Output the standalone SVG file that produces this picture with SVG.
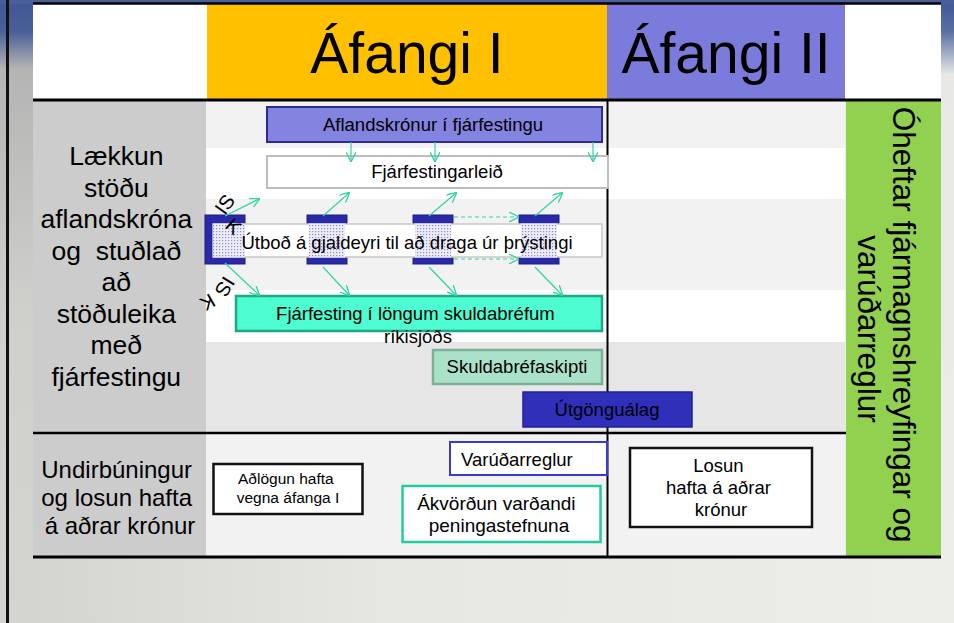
<svg xmlns="http://www.w3.org/2000/svg" width="954" height="623" viewBox="0 0 954 623">
<defs>
<style>
text{font-family:"Liberation Sans",Arial,sans-serif;fill:#000}
.c{text-anchor:middle}
.b{font-size:18.5px}
.isk{font-size:20px}
.ar{stroke:#2fd3a6;stroke-width:1.2;fill:none;marker-end:url(#ah)}
.dash{stroke-dasharray:4 3}
.ln{stroke:#000;fill:none}
</style>
<marker id="ah" viewBox="0 0 10 10" refX="9" refY="5" markerWidth="10" markerHeight="10" markerUnits="userSpaceOnUse" orient="auto">
<path d="M0,0 L10,5 L0,10" fill="none" stroke="#2fd3a6" stroke-width="1.3"/>
</marker>
<pattern id="dots" width="3" height="3" patternUnits="userSpaceOnUse">
<rect width="3" height="3" fill="#ececf6"/>
<rect width="1.2" height="1.2" fill="#8c8cd2"/>
</pattern>
<linearGradient id="leftg" x1="0" y1="0" x2="0" y2="1">
<stop offset="0" stop-color="#3f5795"/>
<stop offset="0.05" stop-color="#4a5f98"/>
<stop offset="0.11" stop-color="#b4b4b4"/>
<stop offset="0.5" stop-color="#cfcfcc"/>
<stop offset="1" stop-color="#d4d4d0"/>
</linearGradient>
<linearGradient id="rightg" x1="0" y1="0" x2="0" y2="1">
<stop offset="0" stop-color="#3f5795"/>
<stop offset="0.05" stop-color="#5a6ea4"/>
<stop offset="0.12" stop-color="#e8e8e6"/>
<stop offset="1" stop-color="#ededea"/>
</linearGradient>
<linearGradient id="botg" x1="0" y1="0" x2="1" y2="0">
<stop offset="0" stop-color="#d2d2ce"/>
<stop offset="0.4" stop-color="#e6e6e2"/>
<stop offset="1" stop-color="#ededea"/>
</linearGradient>
</defs>

<g id="background">
<rect x="0" y="0" width="954" height="623" fill="url(#botg)"/>
<rect x="0" y="0" width="33" height="623" fill="url(#leftg)"/>
<rect x="941" y="0" width="13" height="623" fill="url(#rightg)"/>
<rect x="0" y="0" width="954" height="4" fill="#4a5f98"/>
<rect x="6" y="0" width="3" height="623" fill="#111"/>
</g>

<g id="table">
<rect x="33" y="4" width="174" height="96" fill="#fff"/>
<rect x="207" y="4" width="400" height="96" fill="#ffc000"/>
<rect x="607" y="4" width="238" height="96" fill="#7b7bdc"/>
<rect x="845" y="4" width="96" height="96" fill="#fff"/>
<rect x="33" y="101" width="173" height="456" fill="#cccccc"/>
<rect x="206" y="101" width="639" height="47" fill="#f2f2f2"/>
<rect x="206" y="148" width="639" height="51" fill="#ffffff"/>
<rect x="206" y="199" width="639" height="91" fill="#f2f2f2"/>
<rect x="206" y="290" width="639" height="52" fill="#ffffff"/>
<rect x="206" y="342" width="639" height="91" fill="#e6e6e6"/>
<rect x="206" y="433" width="639" height="124" fill="#f2f2f2"/>
<rect x="846" y="101" width="95" height="456" fill="#92d050"/>
<line class="ln" x1="33" y1="3.5" x2="941" y2="3.5" stroke-width="2.5"/>
<line class="ln" x1="33" y1="100" x2="941" y2="100" stroke-width="3"/>
<line class="ln" x1="33" y1="433" x2="846" y2="433" stroke-width="2.5"/>
<line class="ln" x1="33" y1="557" x2="941" y2="557" stroke-width="3"/>
<line class="ln" x1="607.5" y1="100" x2="607.5" y2="557" stroke-width="2"/>
<text class="c" x="407" y="73" style="font-size:57px">Áfangi I</text>
<text class="c" x="726" y="73" style="font-size:57px">Áfangi II</text>
</g>

<g id="row1-label">
<text class="c" style="font-size:26.5px;white-space:pre" x="120">
<tspan x="120" y="165">Lækkun</tspan>
<tspan x="120" y="196.5">stöðu</tspan>
<tspan x="120" y="228">aflandskróna</tspan>
<tspan x="120" y="259.5">og  stuðlað</tspan>
<tspan x="120" y="291">að</tspan>
<tspan x="120" y="322.5">stöðuleika</tspan>
<tspan x="120" y="354">með</tspan>
<tspan x="120" y="385.5">fjárfestingu</tspan>
</text>
</g>

<g id="row2-label">
<text class="c" style="font-size:24px" x="120">
<tspan x="120" y="478">Undirbúningur</tspan>
<tspan x="120" y="506">og losun hafta</tspan>
<tspan x="120" y="534">á aðrar krónur</tspan>
</text>
</g>

<g id="green-label">
<text class="c" style="font-size:31.5px" transform="translate(893,329) rotate(90)">
<tspan x="0" y="0">Óheftar fjármagnshreyfingar og</tspan>
<tspan x="0" y="35">varúðarreglur</tspan>
</text>
</g>

<g id="node-aflandskronur">
<rect x="267" y="107" width="335" height="35" fill="#8383e0" stroke="#2a2a9a" stroke-width="2"/>
<text class="c b" x="433" y="131">Aflandskrónur í fjárfestingu</text>
</g>

<g id="node-fjarfestingarleid">
<rect x="267" y="156" width="341" height="32" fill="#fff" stroke="#bdbdbd" stroke-width="2"/>
<text class="c b" x="437" y="178">Fjárfestingarleið</text>
</g>

<g id="node-utbod">
<rect x="205" y="215" width="40" height="49" fill="#2a2aa8" stroke="#1c1c85" stroke-width="1"/>
<rect x="307" y="215" width="40" height="49" fill="#2a2aa8" stroke="#1c1c85" stroke-width="1"/>
<rect x="413" y="215" width="40" height="49" fill="#2a2aa8" stroke="#1c1c85" stroke-width="1"/>
<rect x="519" y="215" width="40" height="49" fill="#2a2aa8" stroke="#1c1c85" stroke-width="1"/>
<rect x="213" y="224" width="389" height="33" fill="#fff" stroke="#c8c8c8" stroke-width="1.5"/>
<rect x="213" y="223.5" width="32" height="34" fill="url(#dots)"/>
<rect x="309" y="223.5" width="36" height="34" fill="url(#dots)"/>
<rect x="415" y="223.5" width="36" height="34" fill="url(#dots)"/>
<rect x="521" y="223.5" width="36" height="34" fill="url(#dots)"/>
<text class="c b" x="407" y="249">Útboð á gjaldeyri til að draga úr þrýstingi</text>
<text class="isk" transform="translate(225,216) rotate(-55)">IS</text>
<text class="isk" transform="translate(224,227) rotate(42)">K</text>
<text class="isk" transform="translate(224,275) rotate(122)">IS</text>
<text class="isk" transform="translate(210,293) rotate(150)">K</text>
</g>

<g id="node-fjarfesting-longum">
<rect x="236" y="296" width="366" height="35" fill="#4dfcd0" stroke="#1fa882" stroke-width="2.5"/>
<text class="c b" x="418">
<tspan x="418" y="320">Fjárfesting í löngum skuldabréfum</tspan>
<tspan x="418" y="343">ríkisjóðs</tspan>
</text>
</g>

<g id="node-skuldabrefaskipti">
<rect x="433" y="350" width="169" height="34" fill="#a9e2c9" stroke="#7fae98" stroke-width="2.5"/>
<text class="c b" x="517" y="373">Skuldabréfaskipti</text>
</g>

<g id="node-utgongualag">
<rect x="523" y="392" width="169" height="35" fill="#2f2fb9" stroke="#22229a" stroke-width="1.5"/>
<text class="c b" x="607" y="416">Útgönguálag</text>
</g>

<g id="node-adlogun">
<rect x="213.5" y="464" width="149" height="50" fill="#fff" stroke="#111" stroke-width="2.5"/>
<text class="c" style="font-size:15.5px" x="288">
<tspan x="288" y="484">Aðlögun hafta</tspan>
<tspan x="288" y="503">vegna áfanga I</tspan>
</text>
</g>

<g id="node-varudarreglur">
<rect x="450" y="442" width="157" height="33" fill="#fff" stroke="#3a3ad0" stroke-width="2"/>
<text class="b" x="461" y="466">Varúðarreglur</text>
</g>

<g id="node-akvordun">
<rect x="402.5" y="486" width="198" height="56" fill="#fff" stroke="#22cca0" stroke-width="2.5"/>
<text class="c" style="font-size:19px" x="499">
<tspan x="499" y="510">Ákvörðun varðandi</tspan>
<tspan x="499" y="532">peningastefnuna</tspan>
</text>
</g>

<g id="node-losun">
<rect x="630" y="448" width="182" height="79" fill="#fff" stroke="#111" stroke-width="2.5"/>
<text class="c b" x="721">
<tspan x="721" y="472">Losun</tspan>
<tspan x="721" y="494">hafta á aðrar</tspan>
<tspan x="721" y="516">krónur</tspan>
</text>
</g>

<g id="connectors">
<line class="ar" x1="351" y1="142" x2="351" y2="161"/>
<line class="ar" x1="435" y1="142" x2="435" y2="161"/>
<line class="ar" x1="593" y1="142" x2="593" y2="161"/>
<line class="ar" x1="225" y1="216" x2="259" y2="199"/>
<line class="ar" x1="323" y1="216" x2="349" y2="193"/>
<line class="ar" x1="429" y1="216" x2="456" y2="193"/>
<line class="ar" x1="535" y1="216" x2="562" y2="193"/>
<line class="ar dash" x1="454" y1="217" x2="518" y2="217"/>
<line class="ar dash" x1="454" y1="259" x2="518" y2="259"/>
<line class="ar" x1="225" y1="263" x2="259" y2="295"/>
<line class="ar" x1="323" y1="267" x2="349" y2="295"/>
<line class="ar" x1="429" y1="267" x2="456" y2="295"/>
<line class="ar" x1="535" y1="267" x2="562" y2="295"/>
</g>
</svg>
